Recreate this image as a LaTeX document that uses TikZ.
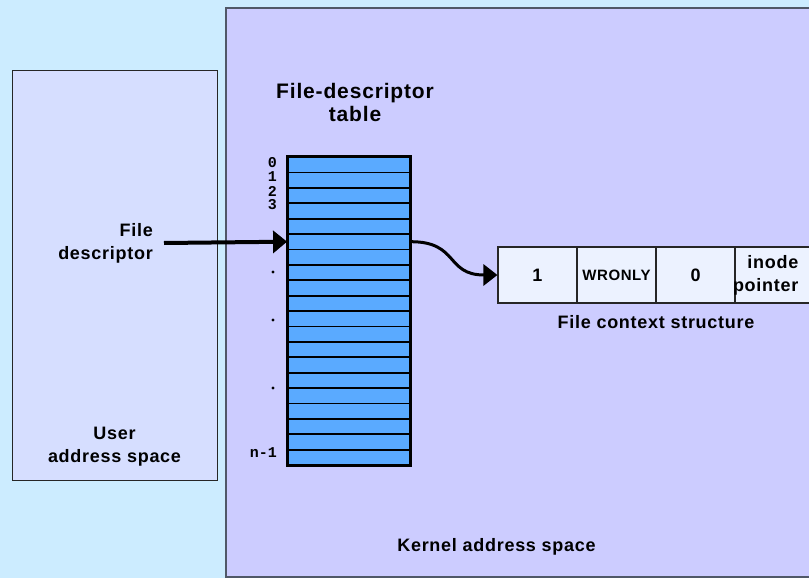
\documentclass[tikz,border=0pt]{standalone}
\usepackage{fontspec}
\setmainfont{Liberation Sans}[LetterSpace=4]
\setmonofont{Liberation Mono}
\usetikzlibrary{arrows.meta}

\definecolor{bgblue}{RGB}{204,236,255}
\definecolor{kernelfill}{RGB}{204,204,255}
\definecolor{userfill}{RGB}{214,222,255}
\definecolor{tablefill}{RGB}{90,170,255}
\definecolor{ctxfill}{RGB}{236,242,255}
\definecolor{edgegray}{RGB}{80,88,104}

\begin{document}
\begin{tikzpicture}[x=1pt,y=-1pt]
    % ===================================
    % settings
    % ===================================
    \def\rh{15.4}  % row height of the table
    \def\ty{157}   % top edge of the table
    \def\cw{79}    % width of one context cell

    \tikzset{
        lbl/.style={font=\bfseries\fontsize{18}{23}\selectfont, align=center, inner sep=0pt},
        idx/.style={font=\ttfamily\bfseries\fontsize{15}{15}\selectfont, anchor=east, inner sep=0pt},
        row/.style={draw=black, line width=1.8pt, fill=tablefill, inner sep=0pt,
                    minimum width=122pt, minimum height=\rh pt},
        cell/.style={draw=black!85, line width=1.1pt, fill=ctxfill, inner sep=0pt,
                     minimum width=\cw pt, minimum height=56pt, font=\bfseries\fontsize{18}{23}\selectfont},
        dot/.style={circle, fill=black, inner sep=0pt, minimum size=3.2pt},
        bigarrow/.style={line width=4pt, -{Triangle[length=14pt,width=22pt]}},
        curvearrow/.style={line width=3pt, -{Triangle[length=14pt,width=21pt]}}
    }
    % ===================================

    \useasboundingbox (0,0) rectangle (809,578);
    \clip (0,0) rectangle (809,578);

    % 1. address spaces
    \fill[bgblue] (0,0) rectangle (809,578);
    \draw[edgegray, line width=1.6pt, fill=kernelfill] (226,8) rectangle (840,577);
    \draw[black!85, line width=1pt, fill=userfill] (12,71) rectangle (217,480);

    \node[lbl] (user) at (114.5,447) {User\\address space};
    \node[lbl] (kernel) at (496.5,546.5) {Kernel address space};

    % 2. file-descriptor table
    \node[lbl, font=\bfseries\fontsize{21}{23}\selectfont] (title) at (355,102) {File-descriptor\\table};

    \foreach \i in {0,...,19} {
        \node[row] (r\i) at (349, \ty + \rh/2 + \i*\rh) {};
    }
    \draw[line width=3pt] (r0.north west) rectangle (r19.south east);

    % index labels
    \foreach \i in {0,...,3} {
        \node[idx] (i\i) at (277, 163 + 14*\i) {\i};
    }
    \node[idx] (ilast) at (277,453) {n-1};

    % dots
    \node[dot] (d1) at (273,272) {};
    \node[dot] (d2) at (273,320) {};
    \node[dot] (d3) at (273,388) {};

    % 3. file context structure
    \foreach \i/\t in {1/1, 2/{\fontsize{15}{15}\selectfont WRONLY}, 3/0, 4/{}} {
        \node[cell] (c\i) at (498 + \cw/2 + \cw*\i - \cw, 275) {\t};
    }
    \node[lbl, align=right, anchor=east] (inode) at ([xshift=-16pt]c4.east) {inode\\pointer};
    \node[lbl] (ctx) at (656,322) {File context structure};

    % 4. arrows
    \node[lbl, align=right, anchor=east] (fd) at (153,243) {File\\descriptor};
    \draw[bigarrow] ([xshift=11pt]fd.east) -- (r5.west);
    \draw[curvearrow] (r5.east) .. controls +(48,0) and +(-52,0) .. (c1.west);

\end{tikzpicture}
\end{document}
